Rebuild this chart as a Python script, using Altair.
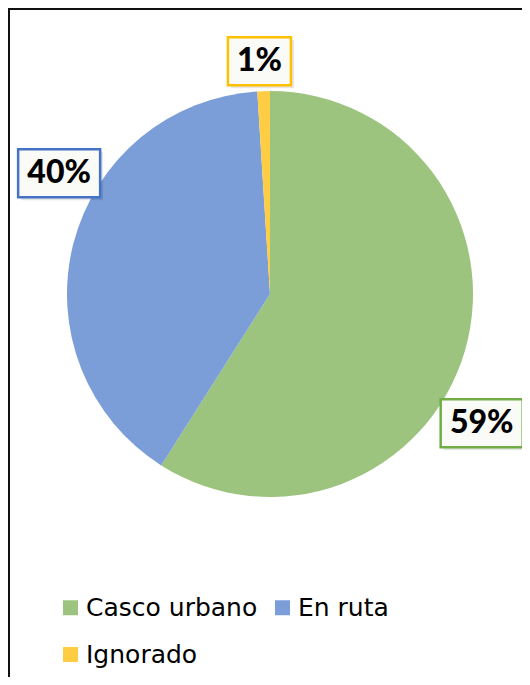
import altair as alt
import pandas as pd

# ---- data ----
categorias = ["Casco urbano", "En ruta", "Ignorado"]
valores = [59, 40, 1]
etiquetas = ["59%", "40%", "1%"]

# ---- styles ----
colores_relleno = ["#9CC47E", "#7C9ED8", "#FFCD44"]
colores_borde = ["#70AD47", "#4472C4", "#FFC000"]
# label placement ("best fit"): angular shift (deg) and distance from centre (px)
giro_etiqueta = [15.2, 15.4, -0.8]
dist_etiqueta = [248, 243, 233]

W, H = 514, 669
CX, CY, R = 262, 286, 203

df = pd.DataFrame({
    "cat": categorias,
    "valor": valores,
    "etiqueta": etiquetas,
    "orden": list(range(len(categorias))),
    "giro": giro_etiqueta,
    "dist": dist_etiqueta,
})

base = alt.Chart(df)

pie = base.mark_arc(outerRadius=R).encode(
    theta=alt.Theta("valor:Q", stack=True),
    color=alt.Color(
        "cat:N",
        scale=alt.Scale(domain=categorias, range=colores_relleno),
        sort=categorias,
        legend=alt.Legend(
            orient="none", legendX=50, legendY=587, direction="horizontal",
            columns=2, title=None, symbolType="square", symbolSize=225,
            symbolStrokeWidth=0, symbolOpacity=1, labelFont="DejaVu Sans",
            labelFontSize=25, labelColor="black", labelOffset=3,
            rowPadding=21, columnPadding=12, padding=0, labelLimit=400,
        ),
    ),
    order=alt.Order("orden:Q"),
    x=alt.value(CX),
    y=alt.value(CY),
)

lab = (
    base.transform_joinaggregate(total="sum(valor)")
    .transform_window(cum="sum(valor)", sort=[alt.SortField("orden")], frame=[None, 0])
    .transform_calculate(ang="((datum.cum - datum.valor/2)/datum.total*360 + datum.giro)*PI/180")
    .transform_calculate(lx=f"{CX} + datum.dist*sin(datum.ang)")
    .transform_calculate(ly=f"{CY} - datum.dist*cos(datum.ang)")
    .transform_calculate(hw="12.5 + 9.5*length(datum.etiqueta)")
    .transform_calculate(bx1="datum.lx - datum.hw")
    .transform_calculate(bx2="datum.lx + datum.hw")
    .transform_calculate(by1="datum.ly - 24")
    .transform_calculate(by2="datum.ly + 24")
    .transform_calculate(sx1="datum.bx1 + 3")
    .transform_calculate(sx2="datum.bx2 + 3")
    .transform_calculate(sy1="datum.by1 + 3")
    .transform_calculate(sy2="datum.by2 + 3")
)

sombra = lab.mark_rect(fill="#000000", opacity=0.10).encode(
    x=alt.X("sx1:Q", scale=None, axis=None),
    x2="sx2:Q",
    y=alt.Y("sy1:Q", scale=None, axis=None),
    y2="sy2:Q",
)

caja = lab.mark_rect(fill="#FAFAF6", strokeWidth=2.5).encode(
    x=alt.X("bx1:Q", scale=None, axis=None),
    x2="bx2:Q",
    y=alt.Y("by1:Q", scale=None, axis=None),
    y2="by2:Q",
    stroke=alt.Stroke("cat:N", scale=alt.Scale(domain=categorias, range=colores_borde), legend=None),
)

texto = lab.mark_text(
    font="Lato", fontWeight=900, fontSize=32, color="black",
    align="center", baseline="middle",
).encode(
    x=alt.X("lx:Q", scale=None, axis=None),
    y=alt.Y("ly:Q", scale=None, axis=None),
    text="etiqueta:N",
)

uno = pd.DataFrame({"k": [0]})
borde_izq = alt.Chart(uno).mark_rule(color="#111111", strokeWidth=2).encode(
    x=alt.value(1), y=alt.value(0), y2=alt.value(H)
)
borde_sup = alt.Chart(uno).mark_rule(color="#111111", strokeWidth=2).encode(
    y=alt.value(1), x=alt.value(0), x2=alt.value(W)
)

chart = (
    alt.layer(pie, sombra, caja, texto, borde_izq, borde_sup)
    .properties(width=W, height=H, padding=0, autosize="none", background="white")
    .configure_view(stroke=None)
)

chart.save("out.html", embed_options={"renderer": "svg", "actions": False})
